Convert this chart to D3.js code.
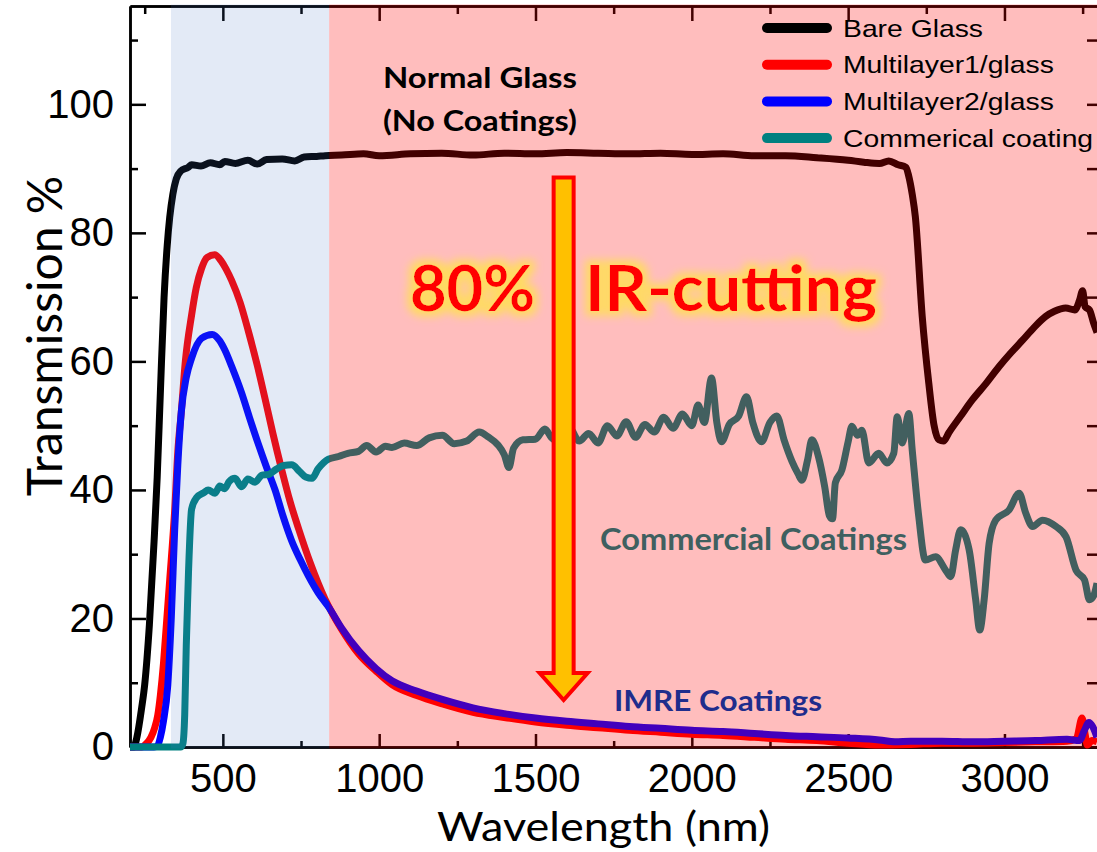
<!DOCTYPE html>
<html>
<head>
<meta charset="utf-8">
<script src="https://cdn.jsdelivr.net/npm/d3@7"></script>
<style>
  body { margin: 0; background: #fff; }
  svg { display: block; }
</style>
</head>
<body>
<script>
// Transmission spectra (wavelength nm, transmission %)
var bareWl = [203,215,225,240,250,265,280,290,300,312,322,330,340,351,365,389,400,430,460,490,506,540,580,610,640,690,730,760,800,827,880,950,1000,1100,1200,1300,1400,1500,1600,1700,1800,1900,2000,2100,2200,2300,2400,2500,2550,2600,2630,2660,2685,2694,2705,2715,2737,2758,2775,2790,2805,2822,2860,2897,2940,2983,3020,3058,3095,3132,3160,3196,3225,3240,3250,3258,3272,3285,3296];
var bareT = [0,0,1.5,6,9.7,19,32,42,55,70,78,82.4,86,88.4,89.6,90.2,90.6,90.4,90.9,90.6,91.1,90.8,91.3,90.7,91.4,91.5,91.2,91.8,91.9,92.0,92.1,92.3,92.0,92.3,92.4,92.1,92.4,92.3,92.5,92.4,92.3,92.4,92.2,92.3,92.0,92.0,91.7,91.3,91.0,90.8,91.2,90.6,90.2,88.8,86,82.5,67,56.6,50,47.8,47.6,48.9,51.5,54,56.5,59.2,61.3,63.3,65.3,67,67.8,68.3,68,69.5,71,68.5,68,66,64.5];

var ml1Wl = [203,240,255,270,282,292,300,310,319,330,346,356,367,380,400,415,432,450,474,495,510,528,555,581,610,635,660,688,715,742,780,827,880,934,990,1041,1120,1202,1300,1400,1500,1600,1700,1800,1900,2000,2100,2200,2300,2400,2500,2600,2700,2800,2900,3000,3100,3200,3230,3248,3258,3265,3280,3296];
var ml1T = [0,0,0.5,1.5,3,5,8,13,18.8,26,36.9,46,52.1,60,67.2,71.5,74.5,76.2,76.6,75.6,74.4,72.6,69.2,64.8,59.4,54.2,48.8,43.2,38.2,34.0,28.6,23.0,18.3,14.5,11.8,9.7,8,6.7,5.4,4.6,3.9,3.4,3.0,2.6,2.3,2.0,1.8,1.5,1.2,1.0,0.6,0.3,0.4,0.6,0.6,0.7,0.8,0.9,1.3,4.5,2,0.3,1,0.8];

var ml2Wl = [203,280,292,300,310,324,335,346,356,367,383,400,432,466,490,506,530,560,585,613,640,667,692,720,747,774,805,838,880,934,990,1041,1120,1202,1300,1400,1500,1600,1700,1800,1900,2000,2100,2200,2300,2400,2500,2600,2650,2700,2800,2900,3000,3100,3200,3240,3255,3270,3282,3296];
var ml2T = [0,0,0.3,1.5,4,9.7,20,33.9,44,52.1,57.5,60.5,63.6,64.2,63.2,61.8,59,55.1,51.3,47.2,43.5,40,36,32.1,29.2,26.6,24,21.8,18.5,15,12.2,10.3,8.7,7.4,6.1,5.2,4.5,4.0,3.6,3.2,2.9,2.6,2.4,2.1,1.8,1.6,1.4,1.1,0.8,0.9,0.9,0.8,0.9,1.0,1.2,1.0,2.5,3.8,3.2,1.5];

var comWl = [203,365,372,378,383,390,400,416,440,453,475,490,506,520,539,560,580,603,625,646,670,695,720,745,765,785,805,838,870,900,934,960,990,1020,1041,1080,1120,1160,1202,1240,1280,1320,1350,1380,1400,1415,1430,1460,1500,1530,1550,1580,1610,1640,1670,1700,1730,1760,1790,1820,1850,1880,1910,1940,1970,2000,2020,2040,2063,2080,2095,2120,2150,2175,2195,2223,2250,2272,2295,2320,2340,2352,2370,2384,2405,2425,2440,2450,2459,2480,2500,2512,2530,2544,2566,2598,2624,2646,2657,2673,2694,2705,2726,2747,2780,2812,2828,2844,2860,2887,2908,2921,2935,2951,2972,3015,3047,3068,3090,3122,3165,3197,3229,3256,3272,3285,3296];
var comT = [0,0,0.5,5,15.8,27,37,38.8,39.6,40,39.5,40.6,40.2,41.3,41.8,40.5,41.7,41.2,42.3,42.4,43.2,43.8,43.9,42.9,42.0,41.8,43.3,44.8,45.2,45.7,46,46.9,45.9,46.8,46.6,47.3,46.9,48.1,48.5,47.2,47.6,49,48.2,47,45.5,43.5,46.5,47.8,47.9,49.5,48.2,47.4,49.5,47.6,48.8,47.3,50,48.4,50.6,48.2,50.2,49,51.3,49.6,51.8,50,53.2,50.5,57.4,50.5,47.5,50.2,51.5,54.5,50.5,47.5,50.5,51.5,47.8,44.5,42.5,41.5,44.6,47.8,45.2,40.5,36,35.5,41.1,43.1,47.5,49.9,48.5,49.3,44.2,45.7,44.2,45.7,51.4,47.3,51.9,46.2,35.8,29.1,29.6,27.5,26.5,30.7,33.8,30.7,22.9,18.2,22.9,31.7,35.3,36.9,39.5,36.4,34.3,35.3,34.3,32.7,27.5,26,22.9,23.5,25.5];

var legendLabels = ["Bare Glass", "Multilayer1/glass", "Multilayer2/glass", "Commerical coating"];
var xMajorTicks = [500, 1000, 1500, 2000, 2500, 3000];
var xMinorTicks = [250, 750, 1250, 1750, 2250, 2750, 3250];
var yMajorTicks = [0, 20, 40, 60, 80, 100];
var yMinorTicks = [10, 30, 50, 70, 90, 110];
// visible (blue) and infrared (red) shaded ranges, nm
var bandStart = [334, 840];
var bandEnd = [840, 3320];

var svgWidth = 1097;
var svgHeight = 852;
var margin = { top: 6, right: 0, bottom: 105, left: 130 };
var width = svgWidth - margin.left - margin.right;
var height = svgHeight - margin.top - margin.bottom;

var svg = d3.select("body").append("svg")
  .attr("width", svgWidth)
  .attr("height", svgHeight);

var defs = svg.append("defs");
defs.append("clipPath").attr("id", "plotclip")
  .append("rect").attr("x", 0).attr("y", -10).attr("width", width).attr("height", height + 20);

var glow = defs.append("filter").attr("id", "glow")
  .attr("x", "-20%").attr("y", "-50%").attr("width", "140%").attr("height", "200%");
glow.append("feMorphology").attr("in", "SourceAlpha").attr("operator", "dilate").attr("radius", 5).attr("result", "dil");
glow.append("feGaussianBlur").attr("in", "dil").attr("stdDeviation", 4).attr("result", "blur");
glow.append("feFlood").attr("flood-color", "#ffdc5e").attr("flood-opacity", 0.95);
glow.append("feComposite").attr("in2", "blur").attr("operator", "in").attr("result", "halo");
var merge = glow.append("feMerge");
merge.append("feMergeNode").attr("in", "halo");
merge.append("feMergeNode").attr("in", "SourceGraphic");

var chartGroup = svg.append("g")
  .attr("transform", `translate(${margin.left}, ${margin.top})`);

var xLinearScale = d3.scaleLinear().domain([203, 3296]).range([0, width]);
var yLinearScale = d3.scaleLinear().domain([0, 115.3]).range([height, 0]);

// axes, ticks pointing inward on all four sides
function styleAxis(g) {
  g.select(".domain").attr("stroke", "#000").attr("stroke-width", 2.5);
  g.selectAll(".tick line").attr("stroke", "#000").attr("stroke-width", 2.5);
  g.selectAll("text")
    .attr("font-family", "'Liberation Sans', Arial, sans-serif")
    .attr("font-size", "40px")
    .attr("fill", "#000");
}

chartGroup.append("g")
  .call(d3.axisLeft(yLinearScale).tickValues(yMajorTicks).tickSize(-16).tickSizeOuter(0).tickPadding(16).tickFormat(d3.format("d")))
  .call(styleAxis);
chartGroup.append("g")
  .call(d3.axisLeft(yLinearScale).tickValues(yMinorTicks).tickSize(-8).tickSizeOuter(0).tickFormat(""))
  .call(styleAxis);
chartGroup.append("g")
  .attr("transform", `translate(${width + 1}, 0)`)
  .call(d3.axisRight(yLinearScale).tickValues(yMajorTicks.concat(yMinorTicks)).tickSize(-11).tickSizeOuter(0).tickFormat(""))
  .call(styleAxis);

chartGroup.append("g")
  .attr("transform", `translate(0, ${height})`)
  .call(d3.axisBottom(xLinearScale).tickValues(xMajorTicks).tickSize(-13).tickSizeOuter(0).tickPadding(17).tickFormat(d3.format("d")))
  .call(styleAxis);
chartGroup.append("g")
  .attr("transform", `translate(0, ${height})`)
  .call(d3.axisBottom(xLinearScale).tickValues(xMinorTicks).tickSize(-6).tickSizeOuter(0).tickFormat(""))
  .call(styleAxis);
chartGroup.append("g")
  .call(d3.axisTop(xLinearScale).tickValues(xMajorTicks).tickSize(-15).tickSizeOuter(0).tickFormat(""))
  .call(styleAxis);
chartGroup.append("g")
  .call(d3.axisTop(xLinearScale).tickValues(xMinorTicks).tickSize(-8).tickSizeOuter(0).tickFormat(""))
  .call(styleAxis);

// spectra
var series = [
  { wl: bareWl, t: bareT, color: "#000000" },
  { wl: ml1Wl, t: ml1T, color: "#ff0000" },
  { wl: ml2Wl, t: ml2T, color: "#0000ff" },
  { wl: comWl, t: comT, color: "#008080" }
];

var line = d3.line()
  .x(d => xLinearScale(d[0]))
  .y(d => yLinearScale(d[1]))
  .curve(d3.curveMonotoneX);

chartGroup.append("g")
  .attr("clip-path", "url(#plotclip)")
  .selectAll("path")
  .data(series)
  .enter()
  .append("path")
  .attr("d", s => line(s.wl.map((w, i) => [w, s.t[i]])))
  .attr("fill", "none")
  .attr("stroke", s => s.color)
  .attr("stroke-width", 7)
  .attr("stroke-linejoin", "round");

// legend (sits under the shading, like the original)
var legend = svg.append("g");
legend.selectAll("line")
  .data(series)
  .enter()
  .append("line")
  .attr("x1", 767).attr("x2", 827)
  .attr("y1", (d, i) => 28 + i * 36.7)
  .attr("y2", (d, i) => 28 + i * 36.7)
  .attr("stroke", d => d.color)
  .attr("stroke-width", 10)
  .attr("stroke-linecap", "round");
legend.selectAll("text")
  .data(legendLabels)
  .enter()
  .append("text")
  .attr("transform", (d, i) => `translate(843, ${28 + i * 36.7 + 8.5}) scale(1.18, 1)`)
  .attr("font-family", "'Liberation Sans', Arial, sans-serif")
  .attr("font-size", "24px")
  .attr("fill", "#000")
  .text(d => d);

// translucent shading bands over everything drawn so far
var bandColors = ["rgba(68,114,196,0.15)", "rgba(255,0,0,0.26)"];
chartGroup.selectAll("rect.band")
  .data(bandStart)
  .enter()
  .append("rect")
  .attr("class", "band")
  .attr("x", (d, i) => xLinearScale(d))
  .attr("y", -1.5)
  .attr("width", (d, i) => xLinearScale(bandEnd[i]) - xLinearScale(d))
  .attr("height", height + 3)
  .attr("fill", (d, i) => bandColors[i]);

// IR-cutting arrow
var ax = xLinearScale(1590);
var aTop = yLinearScale(88.6);
var aBase = yLinearScale(11.5);
var aTip = yLinearScale(7.3);
chartGroup.append("path")
  .attr("d", `M${ax - 10},${aTop} L${ax + 10},${aTop} L${ax + 10},${aBase} L${ax + 24},${aBase} L${ax},${aTip} L${ax - 24},${aBase} L${ax - 10},${aBase} Z`)
  .attr("fill", "#ffc000")
  .attr("stroke", "#ff0000")
  .attr("stroke-width", 4)
  .attr("stroke-linejoin", "miter");

// annotations
function note(txt, x, y, size, color, len, filter) {
  var t = svg.append("text")
    .attr("x", x).attr("y", y)
    .attr("font-family", "Lato, 'Open Sans', sans-serif")
    .attr("font-weight", "bold")
    .attr("font-size", size + "px")
    .attr("fill", color)
    .attr("textLength", len)
    .attr("lengthAdjust", "spacingAndGlyphs")
    .text(txt);
  if (filter) t.attr("filter", filter);
  return t;
}
note("Normal Glass", 383, 88, 29, "#000", 194);
note("(No Coatings)", 383, 131, 29, "#000", 194);
note("80%", 410, 311, 64, "#ff0000", 125, "url(#glow)");
note("IR-cutting", 585, 311, 64, "#ff0000", 292, "url(#glow)");
note("Commercial Coatings", 600, 550, 30, "#3f6060", 307);
note("IMRE Coatings", 614, 711, 28, "#1f2d8c", 208);

// axis titles
svg.append("text")
  .attr("x", 437).attr("y", 841)
  .attr("font-family", "Lato, 'Open Sans', sans-serif")
  .attr("font-size", "40px")
  .attr("fill", "#000")
  .attr("textLength", 333)
  .attr("lengthAdjust", "spacingAndGlyphs")
  .text("Wavelength (nm)");

svg.append("text")
  .attr("transform", "translate(62, 336) rotate(-90)")
  .attr("text-anchor", "middle")
  .attr("font-family", "Lato, 'Open Sans', sans-serif")
  .attr("font-size", "48px")
  .attr("fill", "#000")
  .text("Transmission %");
</script>
</body>
</html>
